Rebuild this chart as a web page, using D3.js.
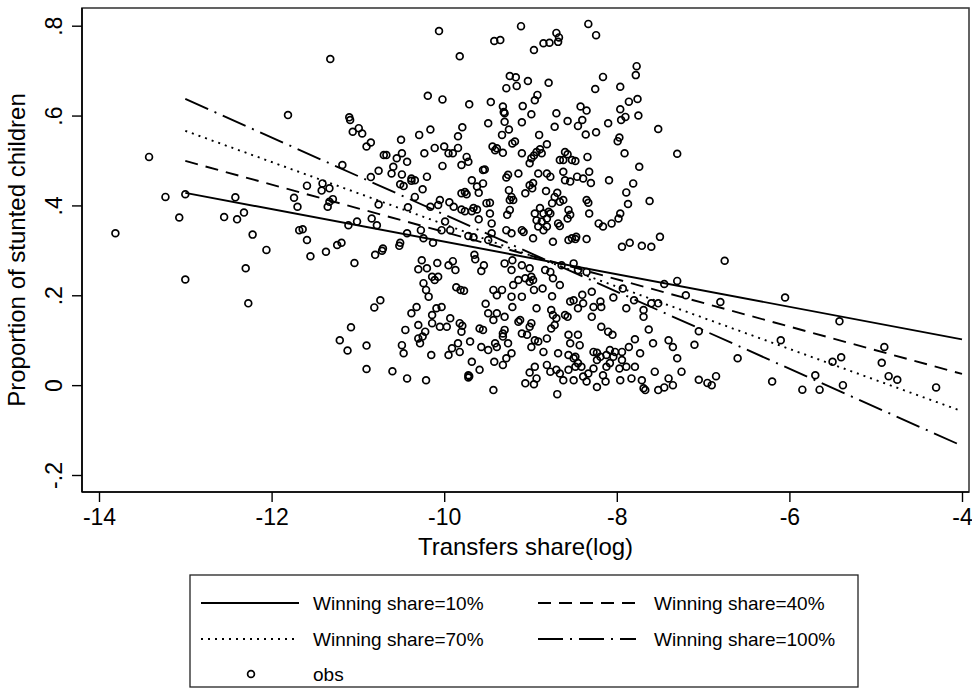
<!DOCTYPE html>
<html>
<head>
<meta charset="utf-8">
<script src="https://cdn.jsdelivr.net/npm/d3@7"></script>
<style>
  body { margin: 0; background: #fff; }
  svg { display: block; font-family: "Liberation Sans", Arial, sans-serif; }
</style>
</head>
<body>
<div id="chart"></div>
<script>
// Tick values and labels
var xTicks = [-14, -12, -10, -8, -6, -4];
var yTicks = [-0.2, 0, 0.2, 0.4, 0.6, 0.8];
var yTickLabels = ["-.2", "0", ".2", ".4", ".6", ".8"];

// Fitted lines (linear, evaluated at both ends of the range)
var fitX = [-13, -4];
var fit10 = [0.428, 0.102];
var fit40 = [0.499, 0.025];
var fit70 = [0.566, -0.058];
var fit100 = [0.637, -0.135];

// Observations [transfers share (log), proportion stunted]
var obs = [
  [-11.81,.601],[-11.10,.596],[-11.09,.590],[-10.99,.572],[-11.06,.564],[-10.95,.560],[-10.85,.540],[-10.90,.531],[-10.70,.512],[-13.42,.508],
  [-11.18,.490],[-10.76,.477],[-10.85,.463],[-11.41,.449],[-11.59,.444],[-11.33,.438],[-11.42,.433],[-13.00,.425],[-13.23,.419],[-12.42,.418],
  [-11.74,.417],[-11.29,.414],[-11.33,.408],[-11.70,.397],[-11.35,.397],[-10.76,.402],[-13.07,.373],[-12.55,.374],[-12.32,.384],[-12.40,.369],
  [-10.84,.371],[-11.11,.356],[-11.01,.364],[-10.78,.356],[-13.81,.338],[-12.22,.335],[-11.68,.345],[-11.64,.347],[-11.59,.323],[-12.06,.301],
  [-11.37,.297],[-11.24,.312],[-11.19,.317],[-11.55,.287],[-11.04,.272],[-10.80,.290],[-10.72,.299],[-12.30,.260],[-13.00,.235],[-12.27,.182],
  [-10.74,.189],[-10.81,.173],
  [-10.06,.788],[-9.11,.799],[-8.33,.804],[-8.24,.779],[-9.42,.766],[-9.35,.768],[-9.82,.732],[-8.85,.761],[-8.78,.762],[-8.70,.784],
  [-8.67,.774],[-8.68,.764],[-8.96,.746],[-11.32,.726],[-7.77,.710],[-7.78,.690],[-8.16,.686],[-9.24,.688],[-9.17,.685],[-9.03,.677],
  [-8.79,.673],[-9.28,.661],[-9.16,.666],[-8.25,.659],[-7.96,.664],[-10.19,.644],[-10.02,.636],[-9.71,.625],[-9.46,.630],[-9.32,.620],
  [-9.09,.621],[-8.92,.646],[-8.95,.634],[-8.42,.620],[-8.35,.611],[-7.86,.631],[-7.76,.637],[-7.96,.614],[-8.70,.605],[-9.31,.608],
  [-9.30,.605],[-8.99,.603],[-7.75,.600],[-7.90,.597],[-7.95,.590],[-9.49,.583],[-9.30,.586],[-9.10,.585],[-8.57,.588],[-8.40,.590],
  [-8.45,.577],[-8.10,.583],[-7.52,.570],[-9.25,.569],[-9.79,.574],[-9.84,.554],[-10.16,.569],[-10.29,.557],[-8.72,.575],[-8.36,.558],
  [-8.24,.563],[-9.33,.557],[-8.90,.557],[-10.50,.546],[-7.97,.551],[-7.99,.543],[-9.18,.542],[-9.21,.538],[-8.81,.536],[-9.44,.531],
  [-9.39,.527],[-9.41,.523],[-10.11,.528],[-10.00,.531],[-9.95,.516],[-9.90,.516],[-9.84,.528],[-10.23,.516],[-9.32,.517],[-9.10,.516],
  [-8.89,.525],[-8.93,.519],[-8.87,.516],[-8.96,.511],[-8.99,.505],[-8.60,.519],[-8.57,.514],[-8.62,.501],[-8.34,.508],[-7.91,.516],
  [-10.67,.512],[-10.55,.505],[-10.49,.516],[-9.74,.508],[-9.72,.497],[-9.80,.490],[-10.02,.488],[-10.43,.497],[-10.59,.486],[-10.61,.471],
  [-9.01,.494],[-8.66,.501],[-8.52,.501],[-8.48,.499],[-7.74,.486],[-9.55,.479],[-9.53,.480],[-10.49,.469],[-10.38,.460],[-10.34,.456],
  [-10.38,.455],[-10.20,.464],[-9.68,.456],[-9.28,.462],[-9.26,.468],[-9.14,.471],[-8.91,.471],[-8.81,.471],[-8.77,.464],[-8.62,.475],
  [-8.60,.456],[-8.54,.453],[-8.46,.464],[-8.39,.460],[-8.32,.475],[-8.30,.450],[-8.09,.456],[-7.81,.449],[-7.89,.429],[-7.62,.410],
  [-10.51,.447],[-10.47,.443],[-10.25,.436],[-9.55,.449],[-9.62,.442],[-9.60,.428],[-9.80,.427],[-9.76,.430],[-9.74,.425],[-9.01,.445],
  [-8.97,.450],[-8.98,.438],[-9.06,.427],[-9.25,.434],[-8.82,.432],[-8.69,.428],[-8.72,.419],[-8.75,.405],[-8.66,.408],[-8.62,.412],
  [-9.22,.419],[-9.20,.412],[-9.24,.412],[-8.35,.412],[-8.33,.406],[-8.32,.382],[-7.87,.403],[-7.96,.382],[-7.98,.371],[-10.05,.412],
  [-9.94,.407],[-9.89,.397],[-10.42,.396],[-10.34,.419],[-10.16,.397],[-10.07,.401],[-9.80,.391],[-9.76,.387],[-9.66,.394],[-9.62,.391],
  [-9.68,.387],[-9.51,.405],[-9.47,.406],[-8.95,.382],[-8.93,.367],[-8.89,.394],[-8.85,.382],[-8.91,.353],[-8.81,.371],[-8.79,.386],
  [-8.87,.364],[-8.85,.345],[-8.81,.353],[-8.77,.382],[-9.24,.390],[-9.27,.379],[-9.47,.382],[-9.45,.360],[-8.56,.390],[-8.54,.379],
  [-8.57,.371],[-8.68,.360],[-8.66,.354],[-8.56,.323],[-8.47,.330],[-8.35,.325],[-8.21,.360],[-8.16,.353],[-8.06,.360],[-9.99,.364],
  [-10.03,.345],[-9.93,.345],[-9.60,.369],[-10.43,.338],[-10.27,.345],[-10.24,.327],[-10.13,.317],[-10.51,.317],[-10.52,.310],[-10.71,.304],
  [-9.72,.332],[-9.66,.329],[-9.45,.338],[-9.49,.323],[-9.28,.345],[-9.22,.338],[-9.10,.345],[-9.08,.341],[-8.97,.327],[-8.74,.319],
  [-8.52,.327],[-8.48,.325],[-7.94,.308],[-7.85,.317],[-7.71,.310],[-7.60,.308],[-7.50,.330],
  [-10.26,.278],[-10.30,.258],[-10.20,.260],[-10.08,.272],[-9.95,.267],[-9.90,.276],[-9.87,.256],[-10.14,.241],[-10.11,.234],[-10.07,.241],
  [-10.24,.227],[-10.21,.212],[-10.18,.197],[-9.86,.218],[-9.81,.212],[-9.77,.210],[-9.65,.290],[-9.64,.280],[-9.54,.267],[-9.57,.254],
  [-9.43,.212],[-9.39,.200],[-9.33,.212],[-9.30,.271],[-9.22,.256],[-9.21,.278],[-9.10,.267],[-9.01,.260],[-9.14,.234],[-9.06,.238],
  [-8.99,.241],[-9.01,.230],[-8.97,.234],[-9.20,.223],[-9.22,.197],[-9.10,.197],[-8.96,.212],[-8.86,.215],[-9.21,.174],[-9.12,.145],
  [-9.14,.141],[-9.52,.181],[-9.49,.160],[-9.39,.160],[-9.43,.145],[-9.30,.152],[-8.93,.171],[-8.75,.198],[-8.66,.223],[-8.74,.238],
  [-8.83,.256],[-8.77,.252],[-8.64,.267],[-8.50,.271],[-8.45,.256],[-8.35,.252],[-8.76,.167],[-8.74,.156],[-8.70,.149],[-8.72,.134],
  [-8.76,.126],[-8.60,.156],[-8.57,.152],[-8.54,.186],[-8.50,.189],[-8.45,.171],[-8.40,.201],[-8.39,.182],[-8.29,.208],[-8.27,.174],
  [-8.29,.152],[-8.19,.186],[-8.18,.174],[-8.04,.195],[-7.93,.215],[-7.89,.171],[-7.80,.189],[-7.69,.167],[-7.69,.152],[-7.60,.182],
  [-7.52,.182],[-8.18,.130],[-8.10,.119],[-8.05,.112],[-7.63,.124],[-7.58,.093],[-7.79,.102],[-7.86,.085],[-7.73,.071],[-7.94,.074],
  [-8.08,.078],[-8.12,.067],[-8.02,.074],[-8.27,.074],[-8.23,.072],[-8.56,.112],[-8.45,.112],[-8.54,.093],[-8.43,.089],[-8.48,.063],
  [-8.56,.067],[-8.81,.104],[-8.91,.097],[-8.95,.100],[-8.99,.085],[-8.85,.074],[-8.68,.071],[-9.10,.115],[-9.04,.112],[-9.01,.130],
  [-8.99,.138],[-9.30,.123],[-9.32,.108],[-9.32,.115],[-9.26,.093],[-9.22,.071],[-9.28,.060],[-9.41,.093],[-9.39,.085],[-9.49,.078],
  [-9.42,.052],[-9.32,.045],[-9.70,.097],[-9.59,.126],[-9.55,.123],[-9.57,.085],[-9.59,.034],[-9.72,.022],[-9.68,.052],[-9.82,.138],
  [-9.79,.132],[-9.80,.119],[-9.84,.093],[-9.82,.074],[-9.97,.130],[-9.93,.149],[-10.05,.130],[-10.14,.138],[-10.03,.174],[-10.09,.171],
  [-10.14,.156],[-10.32,.174],[-10.38,.160],[-10.45,.123],[-10.30,.134],[-10.22,.119],[-10.25,.108],[-10.28,.093],[-10.30,.104],[-10.49,.089],
  [-10.47,.071],[-10.15,.067],[-9.95,.067],[-9.91,.082],[-11.08,.129],[-11.21,.100],[-11.12,.077],[-10.90,.088],[-10.90,.036],[-10.60,.031],
  [-10.43,.015],[-10.21,.011],[-9.71,.020],[-9.72,.017],[-9.43,-.011],[-9.06,.004],[-8.96,.002],[-9.01,.028],[-8.93,.015],[-8.95,.041],
  [-8.81,.045],[-8.77,.030],[-8.70,.034],[-8.66,.026],[-8.62,.011],[-8.56,.034],[-8.50,.011],[-8.39,.019],[-8.33,.026],[-8.35,.008],
  [-8.23,-.004],[-8.27,.037],[-8.16,.022],[-8.13,.008],[-8.69,-.020],[-7.96,.011],[-7.97,.037],[-7.83,.015],[-7.79,.041],[-7.71,.011],
  [-7.69,-.007],[-7.67,-.011],[-7.56,.030],[-7.52,-.011],[-8.19,.063],[-8.23,.056],[-8.08,.049],[-8.04,.063],[-7.94,.056],[-7.89,.041],
  [-8.12,.041],[-8.50,.060],[-8.48,.041],[-8.45,.049],[-8.41,.041],
  [-7.30,.515],[-7.45,.225],[-7.30,.232],[-7.20,.200],[-7.40,.100],[-7.35,.085],[-7.30,.060],[-7.10,.090],[-7.40,.015],[-7.45,-.005],
  [-7.35,.000],[-7.25,.030],[-7.05,.012],[-6.95,.005],[-6.90,.000],[-6.85,.020],[-7.05,.120],[-6.80,.185],[-6.75,.277],[-6.60,.060],
  [-6.10,.100],[-6.05,.195],[-6.20,.008],[-5.85,-.010],[-5.70,.022],[-5.65,-.010],[-5.42,.142],[-5.40,.062],[-5.38,.000],[-5.50,.052],
  [-4.93,.050],[-4.90,.085],[-4.85,.020],[-4.75,.012],[-4.30,-.005]
];

// Layout of the plot region (pixels)
var W = 972, H = 688;
var plot = { left: 82, top: 8, right: 969, bottom: 492 };

var svg = d3.select("#chart")
  .append("svg")
    .attr("width", W)
    .attr("height", H);

var x = d3.scaleLinear()
  .domain([-14, -4])
  .range([plot.left + 17, 962]);

var y = d3.scaleLinear()
  .domain([-0.2, 0.8])
  .range([plot.bottom - 17, plot.top + 17.7]);

// Plot region border
svg.append("rect")
  .attr("x", plot.left)
  .attr("y", plot.top)
  .attr("width", plot.right - plot.left)
  .attr("height", plot.bottom - plot.top)
  .style("fill", "none")
  .style("stroke", "#3c3c3c")
  .style("stroke-width", 1.6);

// Axis lines over the border
svg.append("line")
  .attr("x1", plot.left).attr("x2", plot.left)
  .attr("y1", plot.top).attr("y2", plot.bottom)
  .style("stroke", "#000").style("stroke-width", 1.6);
svg.append("line")
  .attr("x1", plot.left).attr("x2", plot.right)
  .attr("y1", plot.bottom).attr("y2", plot.bottom)
  .style("stroke", "#000").style("stroke-width", 1.6);

// X axis
var xAxis = svg.append("g")
  .attr("transform", "translate(0," + plot.bottom + ")")
  .call(d3.axisBottom(x).tickValues(xTicks).tickSize(10).tickSizeOuter(0).tickFormat(d => String(d)));
xAxis.select(".domain").remove();
xAxis.selectAll("line").style("stroke", "#000").style("stroke-width", 1.4);
xAxis.selectAll("text")
  .attr("y", 33).attr("dy", 0)
  .style("font-size", "23px")
  .style("font-family", "Liberation Sans, Arial, sans-serif")
  .style("fill", "#000");

// Y axis with rotated labels
var yAxis = svg.append("g")
  .attr("transform", "translate(" + plot.left + ",0)")
  .call(d3.axisLeft(y).tickValues(yTicks).tickSize(10).tickSizeOuter(0).tickFormat((d, i) => yTickLabels[i]));
yAxis.select(".domain").remove();
yAxis.selectAll("line").style("stroke", "#000").style("stroke-width", 1.4);
yAxis.selectAll("text")
  .attr("x", 0).attr("y", 0).attr("dy", 0)
  .attr("text-anchor", "middle")
  .attr("transform", "translate(-20,0) rotate(-90)")
  .style("font-size", "23px")
  .style("font-family", "Liberation Sans, Arial, sans-serif")
  .style("fill", "#000");

// Axis titles
svg.append("text")
  .attr("x", (plot.left + plot.right) / 2)
  .attr("y", 555)
  .attr("text-anchor", "middle")
  .style("font-size", "24px")
  .text("Transfers share(log)");

svg.append("text")
  .attr("transform", "translate(25," + (plot.top + plot.bottom) / 2 + ") rotate(-90)")
  .attr("text-anchor", "middle")
  .style("font-size", "24px")
  .text("Proportion of stunted children");

// Scatter of observations
svg.append("g")
  .selectAll("circle")
  .data(obs)
  .enter()
  .append("circle")
    .attr("cx", d => x(d[0]))
    .attr("cy", d => y(d[1]))
    .attr("r", 3.4)
    .style("fill", "none")
    .style("stroke", "#000")
    .style("stroke-width", 1.7);

// Fitted lines
var fits = [
  { name: "Winning share=10%", values: fit10, dash: null },
  { name: "Winning share=40%", values: fit40, dash: "13,8" },
  { name: "Winning share=70%", values: fit70, dash: "2,5" },
  { name: "Winning share=100%", values: fit100, dash: "25,7,2,7" }
];

var line = d3.line()
  .x(d => x(d[0]))
  .y(d => y(d[1]));

fits.forEach(function (f) {
  svg.append("path")
    .datum(fitX.map((v, i) => [v, f.values[i]]))
    .attr("d", line)
    .style("fill", "none")
    .style("stroke", "#000")
    .style("stroke-width", 1.9)
    .style("stroke-dasharray", f.dash);
});

// Legend
var legend = svg.append("g");
legend.append("rect")
  .attr("x", 190)
  .attr("y", 575)
  .attr("width", 668)
  .attr("height", 112)
  .style("fill", "#fff")
  .style("stroke", "#222")
  .style("stroke-width", 1.3);

var legendPos = [
  { lx: 201, tx: 313, cy: 603 },
  { lx: 538, tx: 654, cy: 603 },
  { lx: 201, tx: 313, cy: 639 },
  { lx: 538, tx: 654, cy: 639 }
];

fits.forEach(function (f, i) {
  var p = legendPos[i];
  legend.append("line")
    .attr("x1", p.lx).attr("x2", p.lx + 98)
    .attr("y1", p.cy).attr("y2", p.cy)
    .style("stroke", "#000")
    .style("stroke-width", 1.9)
    .style("stroke-dasharray", f.dash);
  legend.append("text")
    .attr("x", p.tx)
    .attr("y", p.cy + 7)
    .style("font-size", "19px")
    .text(f.name);
});

legend.append("circle")
  .attr("cx", 251).attr("cy", 674)
  .attr("r", 3.4)
  .style("fill", "none")
  .style("stroke", "#000")
  .style("stroke-width", 1.7);
legend.append("text")
  .attr("x", 313)
  .attr("y", 681)
  .style("font-size", "19px")
  .text("obs");
</script>
</body>
</html>
